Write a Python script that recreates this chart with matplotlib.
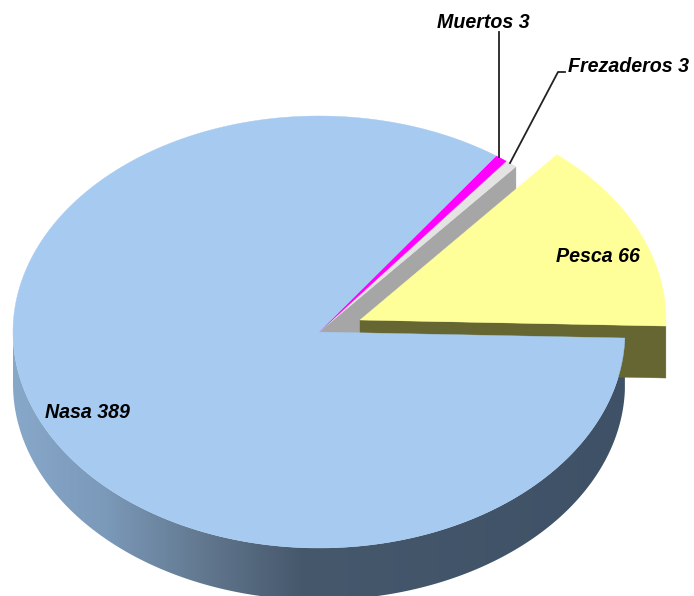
import numpy as np
import matplotlib
matplotlib.use("Agg")
import matplotlib.pyplot as plt
from matplotlib.patches import Polygon
from matplotlib.colors import LinearSegmentedColormap

# Data
categories = ["Pesca", "Frezaderos", "Muertos", "Nasa"]
values = [66, 3, 3, 389]

# Geometry (pixels)
W, H = 694, 596
CX, CY, RX, RY = 319, 332, 306, 216
THICK = 52
START = -1.6
PESCA_OFF = (41, -12)

plt.rcParams["font.family"] = ["Liberation Sans", "DejaVu Sans"]
fig = plt.figure(figsize=(W / 100, H / 100), dpi=100)
ax = fig.add_axes([0, 0, 1, 1])
ax.set_axis_off()

sweeps = np.array(values) / np.sum(values) * 360
edges = START + np.concatenate([[0], np.cumsum(sweeps)])


def pt(deg, dx=0, dy=0):
    t = np.radians(deg)
    return np.column_stack([CX + RX * np.cos(t) + dx, CY - RY * np.sin(t) + dy])


def arc(a, b, dx=0, dy=0, n=240):
    return pt(np.linspace(a, b, n), dx, dy)


def wedge(a, b, dx=0, dy=0):
    return np.vstack([[CX + dx, CY + dy], arc(a, b, dx, dy)])


def wall(deg, dx=0, dy=0):
    p = pt(np.array([deg]), dx, dy)[0]
    return [[CX + dx, CY + dy], p, p + [0, THICK], [CX + dx, CY + dy + THICK]]


def add(xy, color, z):
    ax.add_patch(Polygon(xy, closed=True, fc=color, ec=color, lw=0.3, zorder=z))


# Nasa rim with horizontal gradient
rim_xy = np.vstack([arc(180, edges[4]), arc(edges[4], 180, 0, THICK)])
rim_patch = Polygon(rim_xy, closed=True, fc="none", ec="none", zorder=1)
ax.add_patch(rim_patch)
cmap = LinearSegmentedColormap.from_list(
    "rim",
    [(0.0, "#88A8CA"), (0.15, "#7B99B9"), (0.31, "#62788F"),
     (0.47, "#46586C"), (1.0, "#3F5166")],
)
im = ax.imshow(np.linspace(0, 1, 256)[None, :], cmap=cmap, aspect="auto",
               extent=[CX - RX, CX + RX, H, CY], zorder=1)
im.set_clip_path(rim_patch)

# Frezaderos and Muertos
add(wall(edges[1]), "#A6A6A6", 2)
add(wedge(edges[1], edges[2]), "#E3E3E3", 3)
add(wedge(edges[2], edges[3]), "#FF00FF", 3)

# Pesca, pulled out of the pie
add(wall(edges[0], *PESCA_OFF), "#666633", 4)
add(wedge(edges[0], edges[1], *PESCA_OFF), "#FFFF99", 5)

# Nasa top
add(wedge(edges[3], edges[4]), "#A6CAF0", 6)

# Leader lines
ax.plot([499, 499], [32, 157], color="#222222", lw=1.3, zorder=7)
ax.plot([565, 558, 510], [72, 72, 163], color="#222222", lw=1.3, zorder=7)

# Labels
style = dict(fontsize=14.1, fontweight="bold", fontstyle="italic",
             color="black", va="center", ha="left", zorder=8)
label_pos = [(556, 256), (568, 66), (437, 22), (45, 412)]
for name, val, (x, y) in zip(categories, values, label_pos):
    ax.text(x, y, f"{name} {val}", **style)

ax.set_xlim(0, W)
ax.set_ylim(H, 0)
fig.savefig("out.png", dpi=100, facecolor="white")
